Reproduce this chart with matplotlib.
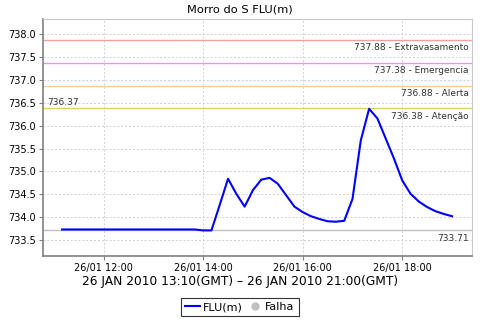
import datetime as dt
import matplotlib
matplotlib.use("Agg")
import matplotlib.pyplot as plt
import matplotlib.dates as mdates
from matplotlib.lines import Line2D

# niveis a cada 10 minutos, 26/01 11:10 .. 19:00 (hora local)
levels = [733.73] * 17 + [
    733.71, 733.71, 734.27, 734.84, 734.51, 734.23, 734.59, 734.82, 734.86,
    734.73, 734.48, 734.23, 734.11, 734.02, 733.96, 733.91, 733.90, 733.92,
    734.40, 735.68, 736.37, 736.16, 735.72, 735.28, 734.80, 734.51, 734.34,
    734.22, 734.13, 734.07, 734.02,
]
start = dt.datetime(2010, 1, 26, 11, 10)
times = [start + dt.timedelta(minutes=10 * i) for i in range(len(levels))]

limit_values = [737.88, 737.38, 736.88, 736.38]
limit_names = ["Extravasamento", "Emergencia", "Alerta", "Atenção"]
limit_colors = ["#f0a0a0", "#ff88ff", "#f8cc98", "#e0d060"]
min_level = 733.71
max_level = 736.37

fig = plt.figure(figsize=(4.8, 3.2), dpi=100)
ax = fig.add_axes([43 / 480, 64 / 320, 429 / 480, 237 / 320])

ax.grid(True, color="#d0d0d0", linestyle=(0, (2, 2)), linewidth=0.7)
ax.set_axisbelow(True)

for v, name, c in zip(limit_values, limit_names, limit_colors):
    ax.axhline(v, color=c, linewidth=1)
    ax.text(0.992, v - 0.07, f"{v:.2f} - {name}", transform=ax.get_yaxis_transform(),
            ha="right", va="top", fontsize=6.5, color="#333333")

ax.axhline(min_level, color="#c0c0c0", linewidth=1)
ax.text(0.992, min_level - 0.07, f"{min_level:.2f}", transform=ax.get_yaxis_transform(),
        ha="right", va="top", fontsize=6.5, color="#333333")
ax.text(0.01, max_level + 0.05, f"{max_level:.2f}", transform=ax.get_yaxis_transform(),
        ha="left", va="bottom", fontsize=6.5, color="#333333")

ax.plot(times, levels, color="#0000ff", linewidth=1.5)

ax.set_xlim(dt.datetime(2010, 1, 26, 10, 47), dt.datetime(2010, 1, 26, 19, 24))
ax.set_ylim(733.15, 738.335)
ax.set_yticks([733.5 + 0.5 * i for i in range(10)])
ax.yaxis.set_major_formatter(matplotlib.ticker.FormatStrFormatter("%.1f"))
ax.xaxis.set_major_locator(mdates.HourLocator(byhour=[12, 14, 16, 18]))
ax.xaxis.set_major_formatter(mdates.DateFormatter("%d/%m %H:%M"))
ax.tick_params(labelsize=7, length=3, color="#808080", pad=2)

for s in ["top", "right"]:
    ax.spines[s].set_color("#c8c8c8")
for s in ["left", "bottom"]:
    ax.spines[s].set_color("#808080")
    ax.spines[s].set_linewidth(1.2)

fig.text(0.5, 1 - 9 / 320, "Morro do S FLU(m)", ha="center", va="center", fontsize=8.2)
fig.text(0.5, 1 - 282 / 320, "26 JAN 2010 13:10(GMT) – 26 JAN 2010 21:00(GMT)",
         ha="center", va="center", fontsize=8.8)

handles = [
    Line2D([], [], color="#0000ff", linewidth=1.5),
    Line2D([], [], color="#c0c0c0", marker="o", linestyle="", markersize=5),
]
leg = fig.legend(handles, ["FLU(m)", "Falha"], loc="center", bbox_to_anchor=(0.5, 1 - 307 / 320),
                 ncol=2, fontsize=8, frameon=True, fancybox=False, handlelength=1.3,
                 handletextpad=0.3, columnspacing=0.4, borderpad=0.35)
leg.get_frame().set_edgecolor("black")
leg.get_frame().set_linewidth(0.8)

plt.savefig("out.png", dpi=100)
